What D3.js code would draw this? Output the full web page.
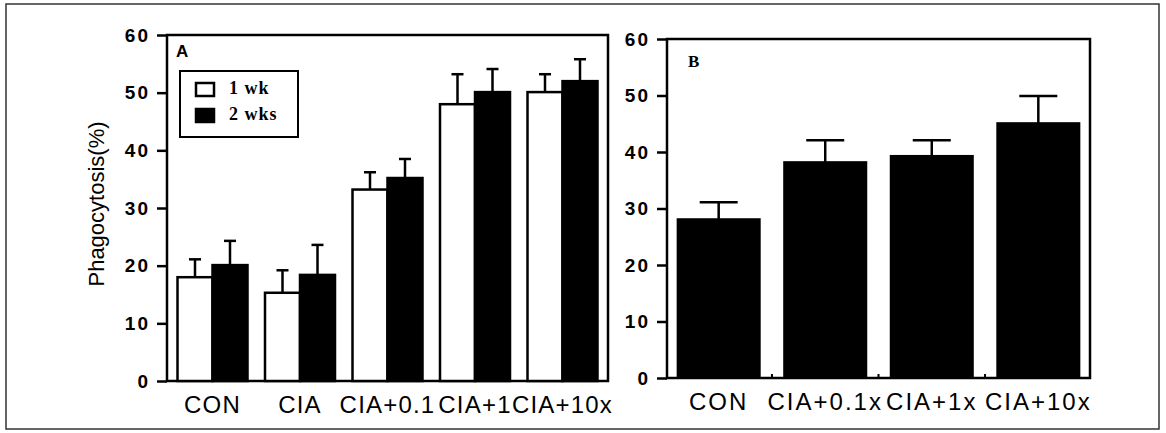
<!DOCTYPE html>
<html>
<head>
<meta charset="utf-8">
<script src="https://cdn.jsdelivr.net/npm/d3@7"></script>
<style>
  body { margin: 0; background: #fff; }
  svg { display: block; }
  .tick text { font-family: "Liberation Sans", Arial, sans-serif; font-weight: bold; font-size: 19px; letter-spacing: 2px; }
</style>
</head>
<body>
<div id="svg-container"></div>
<script>
// data
const groupsA = ["CON", "CIA", "CIA+0.1", "CIA+1", "CIA+10x"];
const seriesA = ["1 wk", "2 wks"];
const wk1 = [18, 15.3, 33.2, 48, 50.1];
const wk1Err = [3.1, 3.9, 3, 5.2, 3.1];
const wk2 = [20.1, 18.4, 35.2, 50.1, 52];
const wk2Err = [4.2, 5.2, 3.3, 4, 3.8];

const groupsB = ["CON", "CIA+0.1x", "CIA+1x", "CIA+10x"];
const valuesB = [28.1, 38.2, 39.3, 45.1];
const errB = [3, 3.9, 2.8, 4.8];

const yTicks = [0, 10, 20, 30, 40, 50, 60];

////////////////////////////////////////////////////////////////////
const width = 1166, height = 433;
const svg = d3.select("#svg-container").append("svg")
  .attr("width", width).attr("height", height);

// outer frame
svg.append("rect")
  .attr("x", 6).attr("y", 4).attr("width", 1153).attr("height", 425)
  .attr("fill", "none").attr("stroke", "#333").attr("stroke-width", 1.5);

// y-axis title
svg.append("text")
  .attr("transform", "translate(104,204) rotate(-90)")
  .attr("text-anchor", "middle")
  .attr("font-family", "Liberation Sans, Arial, sans-serif")
  .attr("font-size", 22)
  .text("Phagocytosis(%)");

function drawPanel(p) {
  const g = svg.append("g");
  const yScale = d3.scaleLinear().domain([0, 60]).range([p.bottom, p.top]);
  const xScale = d3.scaleBand().domain(p.groups).range([p.left, p.right])
    .paddingInner(p.padIn).paddingOuter(p.padOut);

  // frame
  g.append("rect")
    .attr("x", p.left).attr("y", p.top)
    .attr("width", p.right - p.left).attr("height", p.bottom - p.top)
    .attr("fill", "none").attr("stroke", "#000").attr("stroke-width", 2.5);

  // axis
  const yAxis = d3.axisLeft(yScale).tickValues(yTicks).tickSize(10).tickPadding(7);
  const ax = g.append("g").attr("transform", `translate(${p.left},0)`).call(yAxis);
  ax.select(".domain").remove();
  ax.selectAll(".tick line").attr("stroke-width", 2.5);

  // x labels
  g.selectAll(".xlab").data(p.groups).join("text")
    .attr("x", (d) => xScale(d) + xScale.bandwidth() / 2)
    .attr("y", p.bottom + 32)
    .attr("text-anchor", "middle")
    .attr("font-family", "Liberation Sans, Arial, sans-serif")
    .attr("font-size", 24)
    .attr("letter-spacing", p.ls)
    .text((d) => d);

  return { g, xScale, yScale };
}

function errorBar(g, cx, y0, y1, cap) {
  g.append("line").attr("x1", cx).attr("x2", cx).attr("y1", y0).attr("y2", y1)
    .attr("stroke", "#000").attr("stroke-width", 2.5);
  g.append("line").attr("x1", cx - cap / 2).attr("x2", cx + cap / 2).attr("y1", y1).attr("y2", y1)
    .attr("stroke", "#000").attr("stroke-width", 2.5);
}

////////////////////////////  Panel A  /////////////////////////////
const A = drawPanel({ groups: groupsA, left: 167, right: 608, top: 35, bottom: 381, padIn: 0.2, padOut: 0.12, ls: 1.2 });
const xSub = d3.scaleBand().domain(seriesA).range([0, A.xScale.bandwidth()]);
const rowsA = groupsA.map((d, i) => [
  { g: d, s: seriesA[0], v: wk1[i], e: wk1Err[i] },
  { g: d, s: seriesA[1], v: wk2[i], e: wk2Err[i] }
]).flat();

rowsA.forEach((d) => {
  const x = A.xScale(d.g) + xSub(d.s);
  const cx = x + xSub.bandwidth() / 2;
  errorBar(A.g, cx, A.yScale(d.v), A.yScale(d.v + d.e), 12);
});
A.g.selectAll(".bar").data(rowsA).join("rect")
  .attr("x", (d) => A.xScale(d.g) + xSub(d.s))
  .attr("y", (d) => A.yScale(d.v))
  .attr("width", xSub.bandwidth())
  .attr("height", (d) => A.yScale(0) - A.yScale(d.v))
  .attr("fill", (d) => (d.s === seriesA[0] ? "#fff" : "#000"))
  .attr("stroke", "#000").attr("stroke-width", 2.5);

// panel letter
A.g.append("text").attr("x", 176).attr("y", 57)
  .attr("font-family", "Liberation Sans, Arial, sans-serif")
  .attr("font-weight", "bold").attr("font-size", 17).text("A");

// legend
const leg = A.g.append("g").attr("transform", "translate(180,71)");
leg.append("rect").attr("width", 118).attr("height", 66)
  .attr("fill", "#fff").attr("stroke", "#000").attr("stroke-width", 2);
seriesA.forEach((s, i) => {
  leg.append("rect").attr("x", 16).attr("y", 12 + i * 26).attr("width", 18).attr("height", 13)
    .attr("fill", i === 0 ? "#fff" : "#000").attr("stroke", "#000").attr("stroke-width", 2.5);
  leg.append("text").attr("x", 49).attr("y", 23 + i * 26)
    .attr("font-family", "Liberation Serif, Times New Roman, serif")
    .attr("font-weight", "bold").attr("font-size", 18).attr("letter-spacing", 1).text(s);
});

////////////////////////////  Panel B  /////////////////////////////
const B = drawPanel({ groups: groupsB, left: 667, right: 1090, top: 39, bottom: 378, padIn: 0.23, padOut: 0.1, ls: 2 });
groupsB.forEach((d, i) => {
  const cx = B.xScale(d) + B.xScale.bandwidth() / 2;
  errorBar(B.g, cx, B.yScale(valuesB[i]), B.yScale(valuesB[i] + errB[i]), 38);
});
B.g.selectAll(".bar").data(groupsB).join("rect")
  .attr("x", (d) => B.xScale(d))
  .attr("y", (d, i) => B.yScale(valuesB[i]))
  .attr("width", B.xScale.bandwidth())
  .attr("height", (d, i) => B.yScale(0) - B.yScale(valuesB[i]))
  .attr("fill", "#000").attr("stroke", "#000").attr("stroke-width", 2);

// small baseline ticks between bars
B.g.selectAll(".gap").data(groupsB.slice(1)).join("line")
  .attr("x1", (d) => B.xScale(d) - B.xScale.step() * B.xScale.paddingInner() / 2)
  .attr("x2", (d) => B.xScale(d) - B.xScale.step() * B.xScale.paddingInner() / 2)
  .attr("y1", B.yScale(0)).attr("y2", B.yScale(0) - 4)
  .attr("stroke", "#000").attr("stroke-width", 2);

B.g.append("text").attr("x", 688).attr("y", 67)
  .attr("font-family", "Liberation Serif, Times New Roman, serif")
  .attr("font-weight", "bold").attr("font-size", 17).text("B");
</script>
</body>
</html>
